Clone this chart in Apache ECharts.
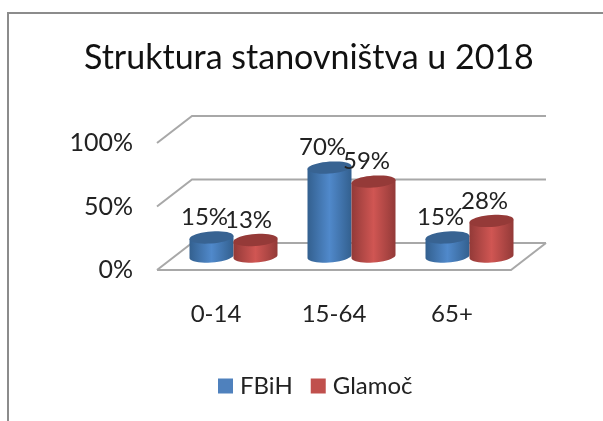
<!DOCTYPE html>
<html>
<head>
<meta charset="utf-8">
<style>
  html, body { margin: 0; padding: 0; background: #fff; }
  #chart { width: 603px; height: 421px; }
</style>
<script src="https://cdn.jsdelivr.net/npm/echarts@6/dist/echarts.min.js"></script>
</head>
<body>
<div id="chart"></div>
<script>
const categories = ['0-14', '15-64', '65+'];
const fbih = [15, 70, 15];
const glamoc = [13, 59, 28];
const yTicks = [0, 50, 100];

const FONT = 'Lato';
const TEXT = '#222';
const WALL = '#a8a8a8';
// chart depth of the fake 3d box
const DEPTH_X = 35;
const DEPTH_Y = -27;
const RX = 22;
const RY = 6;
const TILT = -0.07;

// outline point of a slightly tilted ellipse
function ellipsePoint(cx, cy, t) {
  const x = RX * Math.cos(t);
  return [cx + x, cy + RY * Math.sin(t) + TILT * x];
}

function ellipse(cx, cy) {
  const pts = [];
  for (let i = 0; i < 40; i++) pts.push(ellipsePoint(cx, cy, i / 40 * Math.PI * 2));
  return pts;
}

function renderWall(params, api) {
  const sys = params.coordSys;
  const y = api.coord([0, api.value(1)])[1];
  const left = sys.x;
  const right = sys.x + sys.width;
  const style = { stroke: WALL, lineWidth: 2, fill: null };
  const children = [{
    type: 'polyline',
    shape: { points: [[left, y], [left + DEPTH_X, y + DEPTH_Y], [right + DEPTH_X, y + DEPTH_Y]] },
    style: style
  }];
  if (api.value(1) === 0) {
    children.push({
      type: 'polyline',
      shape: { points: [[left, y], [right, y], [right + DEPTH_X, y + DEPTH_Y]] },
      style: style
    });
  }
  return { type: 'group', children: children };
}

function cylinderRenderer(side, edge, mid, lid) {
  return function (params, api) {
    const idx = api.value(0);
    const base = api.coord([idx, 0]);
    const top = api.coord([idx, api.value(1)]);
    const cx = base[0] + DEPTH_X / 2 + side * RX;
    const baseY = base[1] + DEPTH_Y / 2;
    const topY = top[1] + DEPTH_Y / 2;

    const body = [];
    for (let i = 0; i <= 20; i++) body.push(ellipsePoint(cx, baseY, i / 20 * Math.PI));
    body.push(ellipsePoint(cx, topY, Math.PI));
    body.push(ellipsePoint(cx, topY, 0));

    return {
      type: 'group',
      children: [
        {
          type: 'polygon',
          shape: { points: body },
          style: {
            fill: new echarts.graphic.LinearGradient(0, 0, 1, 0, [
              { offset: 0, color: edge },
              { offset: 0.5, color: mid },
              { offset: 1, color: edge }
            ])
          }
        },
        { type: 'polygon', shape: { points: ellipse(cx, topY) }, style: { fill: lid } },
        {
          type: 'text',
          z2: 100,
          style: {
            x: cx - 7,
            y: topY - 20,
            text: api.value(1) + '%',
            fill: TEXT,
            font: '24px ' + FONT,
            align: 'center',
            verticalAlign: 'middle'
          }
        }
      ]
    };
  };
}

const chart = echarts.init(document.getElementById('chart'));
chart.setOption({
  animation: false,
  backgroundColor: '#fff',
  title: {
    text: 'Struktura stanovništva u 2018',
    left: 79,
    top: 36,
    textStyle: { fontFamily: FONT, fontSize: 34, fontWeight: 'normal', color: '#111' }
  },
  legend: {
    left: 213,
    top: 369,
    itemWidth: 15,
    itemHeight: 15,
    itemGap: 18,
    icon: 'rect',
    data: ['FBiH', 'Glamoč'],
    textStyle: { fontFamily: FONT, fontSize: 24, color: TEXT, padding: [0, 0, 0, 2] }
  },
  grid: { left: 157, top: 143, width: 354, height: 127 },
  xAxis: {
    type: 'category',
    data: categories,
    axisLine: { show: false },
    axisTick: { show: false },
    axisLabel: { margin: 32, fontFamily: FONT, fontSize: 24, color: TEXT }
  },
  yAxis: {
    type: 'value',
    min: 0,
    max: 100,
    interval: 50,
    splitLine: { show: false },
    axisLine: { show: false },
    axisTick: { show: false },
    axisLabel: { margin: 24, fontFamily: FONT, fontSize: 25, color: TEXT, formatter: '{value}%', padding: [9, 0, 0, 0] }
  },
  graphic: [{
    type: 'polyline',
    silent: true,
    shape: { points: [[8, 421], [8, 13], [603, 13]] },
    style: { stroke: '#8c8c8c', lineWidth: 2, fill: null }
  }],
  series: [
    {
      type: 'custom',
      silent: true,
      clip: false,
      z: 1,
      renderItem: renderWall,
      data: yTicks.map(v => [0, v])
    },
    {
      name: 'FBiH',
      type: 'custom',
      clip: false,
      z: 2,
      itemStyle: { color: '#4f81bd' },
      renderItem: cylinderRenderer(-1, '#33608f', '#5089cb', '#386392'),
      data: fbih.map((v, i) => [i, v])
    },
    {
      name: 'Glamoč',
      type: 'custom',
      clip: false,
      z: 3,
      itemStyle: { color: '#c0504d' },
      renderItem: cylinderRenderer(1, '#933a38', '#d05653', '#953a38'),
      data: glamoc.map((v, i) => [i, v])
    }
  ]
});
</script>
</body>
</html>
